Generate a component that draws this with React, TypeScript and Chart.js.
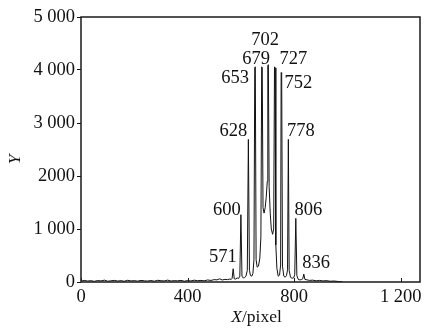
import { useEffect, useRef } from "react";
import { Chart, registerables } from "chart.js";

Chart.register(...registerables);

// spectrum samples (x in pixel, y intensity)
const spectrumX = [
  0, 12, 25, 37, 50, 62, 75, 88, 100, 112, 125, 138, 150, 162, 175, 188, 200, 212, 225, 238,
  250, 262, 275, 288, 300, 312, 325, 338, 350, 362, 375, 388, 400, 412, 425, 438, 450, 462, 475, 488,
  500, 510, 520, 530, 540, 550, 558,
  564, 567, 571, 575, 580, 586, 592, 596, 600, 604, 609, 614, 619, 624, 628, 632, 636, 641, 645, 649,
  652, 654, 657, 661, 666, 671, 675, 678, 680, 683, 687, 691, 695, 699, 701, 703, 706, 710, 714, 719,
  723, 726, 728, 731, 735, 740, 745, 749, 751, 753, 756, 761, 766, 771, 775, 778, 781, 786, 792, 798,
  802, 806, 810, 815, 821, 827, 832, 836, 840, 848, 858, 870, 882, 895, 908, 920, 935, 950, 965, 980,
];
const spectrumY = [
  15, 30, 18, 25, 12, 28, 20, 35, 15, 22, 30, 18, 25, 14, 32, 20, 26, 16, 30, 22,
  18, 28, 15, 32, 24, 20, 35, 18, 26, 22, 30, 15, 28, 20, 34, 24, 30, 22, 38, 30,
  45, 40, 60, 38, 50, 45, 55,
  50, 70, 250, 60, 55, 75, 70, 110, 1270, 110, 75, 85, 110, 220, 2690, 220, 120, 110, 160, 420,
  4040, 4060, 420, 280, 300, 450, 850, 4060, 4040, 1400, 1300, 1400, 1600, 1900, 4080, 4100, 1800, 1300, 1000, 900,
  1000, 4060, 4040, 700, 260, 110, 130, 320, 3950, 3940, 300, 110, 90, 120, 230, 2690, 220, 90, 70, 80,
  140, 1200, 120, 50, 40, 45, 60, 150, 50, 40, 30, 35, 22, 30, 20, 26, 15, 18, 10, 5,
];

// peak annotations: text and anchor (data coordinates of label centre)
const peakLabels = ["571", "600", "628", "653", "679", "702", "727", "752", "778", "806", "836"];
const peakLabelX = [532, 547, 572, 578, 657, 691, 797, 816, 825, 853, 882];
const peakLabelY = [466, 1358, 2855, 3840, 4200, 4566, 4200, 3750, 2855, 1358, 364];

const xTickValues = [0, 400, 800, 1200];
const xTickLabels = ["0", "400", "800", "1 200"];
const yTickValues = [0, 1000, 2000, 3000, 4000, 5000];
const yTickLabels = ["0", "1 000", "2000", "3 000", "4 000", "5 000"];

const FONT = '"Liberation Serif", "Times New Roman", serif';
const NUM_SIZE = 18.5;

export default function App() {
  const ref = useRef<HTMLCanvasElement | null>(null);

  useEffect(() => {
    document.body.style.margin = "0";
    const canvas = ref.current;
    if (!canvas) return;

    const overlay = {
      id: "overlay",
      afterDraw(chart: any) {
        const { ctx, chartArea } = chart;
        const xs = chart.scales.x;
        const ys = chart.scales.y;
        ctx.save();
        // frame
        ctx.strokeStyle = "#1a1a1a";
        ctx.lineWidth = 1.5;
        ctx.strokeRect(chartArea.left, chartArea.top, chartArea.right - chartArea.left, chartArea.bottom - chartArea.top);
        // inward x ticks
        ctx.lineWidth = 1;
        xTickValues.forEach((v) => {
          const px = Math.round(xs.getPixelForValue(v)) + 0.5;
          ctx.beginPath();
          ctx.moveTo(px, chartArea.bottom);
          ctx.lineTo(px, chartArea.bottom - 4);
          ctx.stroke();
        });
        // peak labels
        ctx.fillStyle = "#111";
        ctx.font = `${NUM_SIZE}px ${FONT}`;
        ctx.textAlign = "center";
        ctx.textBaseline = "middle";
        peakLabels.forEach((t, i) => {
          ctx.fillText(t, xs.getPixelForValue(peakLabelX[i]), ys.getPixelForValue(peakLabelY[i]));
        });
        // x title: italic X + /pixel
        ctx.textBaseline = "alphabetic";
        ctx.textAlign = "left";
        ctx.font = `italic 17.5px ${FONT}`;
        const wX = ctx.measureText("X").width;
        ctx.font = `17.5px ${FONT}`;
        const wRest = ctx.measureText("/pixel").width;
        const cx = (chartArea.left + chartArea.right) / 2 + 6;
        const startX = cx - (wX + wRest) / 2;
        ctx.font = `italic 17.5px ${FONT}`;
        ctx.fillText("X", startX, 322);
        ctx.font = `17.5px ${FONT}`;
        ctx.fillText("/pixel", startX + wX, 322);
        // y title
        ctx.translate(15, (chartArea.top + chartArea.bottom) / 2 + 10);
        ctx.rotate(-Math.PI / 2);
        ctx.textAlign = "center";
        ctx.textBaseline = "middle";
        ctx.font = `italic 17.5px ${FONT}`;
        ctx.fillText("Y", 0, 0);
        ctx.restore();
      },
    };

    const chart = new Chart(canvas, {
      type: "line",
      data: {
        datasets: [
          {
            data: spectrumX.map((x, i) => ({ x, y: spectrumY[i] })),
            borderColor: "#111",
            borderWidth: 1,
            pointRadius: 0,
            tension: 0,
            fill: false,
          },
        ],
      },
      options: {
        animation: false,
        responsive: false,
        maintainAspectRatio: false,
        layout: { padding: { left: 0, right: 7, top: 17, bottom: 0 } },
        plugins: { legend: { display: false }, tooltip: { enabled: false } },
        scales: {
          x: {
            type: "linear",
            min: 0,
            max: 1272,
            grid: { display: false, drawTicks: false },
            border: { display: false },
            afterBuildTicks: (scale: any) => {
              scale.ticks = xTickValues.map((v) => ({ value: v }));
            },
            afterFit: (scale: any) => {
              scale.height = 50;
            },
            ticks: {
              color: "#111",
              font: { family: FONT, size: NUM_SIZE },
              padding: 4,
              maxRotation: 0,
              autoSkip: false,
              callback: (v: any) => {
                const i = xTickValues.indexOf(Number(v));
                return i >= 0 ? xTickLabels[i] : "";
              },
            },
          },
          y: {
            type: "linear",
            min: 0,
            max: 5000,
            grid: { drawOnChartArea: false, drawTicks: true, tickLength: 4, color: "#111", lineWidth: 1 },
            border: { display: false },
            afterBuildTicks: (scale: any) => {
              scale.ticks = yTickValues.map((v) => ({ value: v }));
            },
            afterFit: (scale: any) => {
              scale.width = 81;
            },
            ticks: {
              color: "#111",
              font: { family: FONT, size: NUM_SIZE },
              padding: 2,
              autoSkip: false,
              callback: (v: any) => {
                const i = yTickValues.indexOf(Number(v));
                return i >= 0 ? yTickLabels[i] : "";
              },
            },
          },
        },
      },
      plugins: [overlay],
    });

    return () => chart.destroy();
  }, []);

  return (
    <div style={{ width: 427, height: 332 }}>
      <canvas ref={ref} width={427} height={332} style={{ display: "block", width: 427, height: 332 }} />
    </div>
  );
}
